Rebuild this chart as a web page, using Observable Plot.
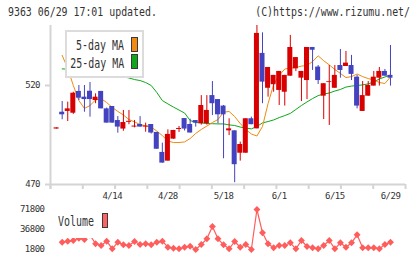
<!DOCTYPE html>
<html>
<head>
<meta charset="utf-8">
<script src="https://cdn.jsdelivr.net/npm/d3@7"></script>
<script src="https://cdn.jsdelivr.net/npm/@observablehq/plot@0.6"></script>
<style>
  body { margin: 0; background: #fff; }
  #chart { position: relative; width: 420px; height: 259px; overflow: hidden;
           font-family: "DejaVu Sans Mono", monospace; color: #333; background: #fff; }
  #mainPlot, #volPlot { position: absolute; left: 0; }
  #mainPlot { top: 0; }
  #volPlot { top: 200px; }
  .t { position: absolute; white-space: nowrap; line-height: 1; display: inline-block; }
  .hdr { font-size: 11.5px; transform: scaleX(0.86); top: 7px; }
  .leg { font-size: 13.7px; transform: scaleX(0.727); }
  .box { position: absolute; background: #fff; }
  .sw { position: absolute; box-sizing: border-box; border: 1.5px solid #3a3a3a; }
</style>
</head>
<body>
<div id="chart">
  <div class="t hdr" style="left:8px; transform-origin:left center;">9363 06/29 17:01 updated.</div>
  <div class="t hdr" style="right:10px; transform-origin:right center;">(C)https://www.rizumu.net/</div>
  <div id="mainPlot"></div>
  <div id="volPlot"></div>

  <!-- moving-average legend -->
  <div class="box" style="left:64.5px; top:29.5px; width:79px; height:48.5px; box-sizing:border-box; border:2px solid #dcdcdc;"></div>
  <div class="t leg" style="right:296px; top:39.4px; transform-origin:right center;">5-day MA</div>
  <div class="t leg" style="right:296px; top:56.6px; transform-origin:right center;">25-day MA</div>
  <div class="sw" style="left:131px; top:37px; width:6.5px; height:15px; background:#f08a10;"></div>
  <div class="sw" style="left:131px; top:54.3px; width:6.5px; height:15px; background:#10a818;"></div>

  <!-- volume legend -->
  <div class="box" style="left:55px; top:204px; width:56px; height:33.5px;"></div>
  <div class="t leg" style="left:58.3px; top:215.4px; transform-origin:left center;">Volume</div>
  <div class="sw" style="left:101.5px; top:213.3px; width:6.5px; height:15px; background:#ff6262;"></div>
</div>

<script>
// Trading days
const dates = ["3/31","4/1","4/2","4/3","4/6","4/7","4/8","4/9","4/10","4/13",
  "4/14","4/15","4/16","4/17","4/20","4/21","4/22","4/23","4/24","4/27",
  "4/28","4/30","5/1","5/7","5/8","5/11","5/12","5/13","5/14","5/15",
  "5/18","5/19","5/20","5/21","5/22","5/25","5/26","5/27","5/28","5/29",
  "6/1","6/2","6/3","6/4","6/5","6/8","6/9","6/10","6/11","6/12",
  "6/15","6/16","6/17","6/18","6/19","6/22","6/23","6/24","6/25","6/26","6/29"];

const open = [498.0,506.5,506.9,506.0,517.0,514.1,517.1,512.4,517.0,508.2,
  509.4,502.3,498.0,501.4,499.0,500.3,499.0,500.3,496.3,486.2,
  481.8,492.9,497.8,503.3,500.3,502.3,500.7,500.7,514.9,512.9,
  509.6,497.1,497.1,485.8,485.8,503.2,498.1,536.2,518.6,520.4,
  517.5,516.6,524.7,528.4,523.7,522.5,539.2,529.3,514.6,521.5,
  518.6,530.1,529.6,530.1,524.2,506.9,514.6,519.7,523.7,527.1,525.1];

const high = [498.6,511.9,511.6,516.6,520.0,520.0,521.5,515.8,517.0,508.6,
  509.4,504.3,507.4,507.4,502.3,504.3,501.0,500.3,496.3,490.9,
  497.6,497.3,499.3,503.3,503.0,502.3,514.9,514.9,522.0,512.9,
  509.9,503.2,497.1,491.4,503.2,504.0,551.0,546.6,529.1,525.1,
  527.1,525.1,545.3,534.1,527.1,539.2,539.2,530.1,520.9,530.1,
  530.1,538.2,537.2,535.2,525.1,522.0,522.0,527.1,529.1,528.1,540.2];

const low = [498.0,502.7,501.8,505.4,512.4,506.5,504.0,510.8,508.2,501.0,
  501.0,495.9,496.9,500.2,498.6,499.0,496.4,495.5,487.8,480.8,
  481.8,492.9,496.3,497.0,496.0,499.0,500.0,500.0,504.8,500.7,
  483.0,494.7,470.9,481.8,485.8,500.2,498.1,510.8,514.1,516.6,
  509.9,509.6,524.7,527.0,511.9,512.9,527.6,520.5,502.8,499.8,
  518.6,523.7,529.6,522.5,508.2,506.9,514.6,519.7,519.7,524.7,519.7];

const close = [498.6,505.2,508.2,516.1,513.6,512.9,512.9,514.1,508.2,501.0,
  501.0,499.0,501.3,501.9,499.5,499.0,499.5,496.0,487.8,480.8,
  495.3,497.3,498.3,498.0,496.0,501.0,509.9,507.4,510.8,505.2,
  505.2,498.1,480.0,490.2,503.2,500.2,546.3,521.7,529.1,525.1,
  527.1,525.1,539.2,534.1,527.1,539.2,537.8,522.5,520.9,521.9,
  525.1,527.6,531.3,525.6,509.6,514.9,520.0,524.2,527.1,524.7,523.7];

// 5-day and 25-day moving averages
const ma5 = [null,535.2,528.6,520.0,512.4,508.4,509.9,512.7,513.3,511.4,
  508.9,506.9,505.1,502.8,501.6,500.3,499.6,499.0,497.0,494.7,
  492.0,491.2,491.2,491.5,493.2,495.8,497.8,499.5,501.3,502.8,
  506.5,506.9,504.3,500.8,497.8,495.5,494.5,499.3,510.9,520.5,
  525.1,528.3,528.8,529.1,529.8,530.1,532.1,535.0,532.5,530.4,
  528.1,526.1,524.0,524.5,525.8,524.5,523.5,522.8,521.5,521.0,524.3];

const ma25 = [null,528.4,528.2,528.0,527.8,527.5,527.2,526.8,526.4,526.0,
  525.5,525.0,524.4,523.8,523.0,522.5,521.5,520.0,516.5,512.4,
  510.7,509.1,507.6,506.1,502.3,501.3,501.1,500.8,500.7,500.6,
  500.6,500.1,499.8,499.0,498.5,498.1,499.3,501.1,501.8,502.6,
  503.8,504.8,505.9,507.9,509.9,511.7,513.4,514.9,515.7,516.2,
  517.2,518.0,519.2,519.7,520.0,520.3,520.8,521.8,523.3,524.3,525.3];

const volume = [null,14600,16300,17550,21400,19300,27000,11800,8800,16300,
  3000,14600,10000,8800,15800,10500,11800,10000,14600,16300,
  5800,4000,3000,5800,7600,1800,10500,20500,42000,20500,
  10000,3000,15800,5800,10500,1800,71800,31000,11800,4800,
  8800,8800,13500,3000,17500,7000,4800,3000,8800,17500,
  3000,13500,5800,13500,27500,4800,4800,4800,3000,10500,14600];

const dateLabels = ["4/14","4/28","5/18","6/1","6/15","6/29"];
const priceTicks = [470, 520];
const volumeTicks = [1800, 36800, 71800];

const rows = dates.map((d, i) => ({
  i, d, o: open[i], h: high[i], l: low[i], c: close[i],
  ma5: ma5[i], ma25: ma25[i], v: volume[i]
}));

const RED = "#d80000", BLUE = "#4343c0", AX = "#d4d4d4";
const ORANGE = "#f08a10", GREEN = "#10a818", VOL = "#ff5c5c";
const candleColor = r => (r.c >= r.o ? RED : BLUE);

const xDomain = [-1.1, 62.7];
// evenly spaced axis ticks across the frame
const xTicks = d3.range(12).map(k => xDomain[0] + k * (xDomain[1] - xDomain[0]) / 11);
const labelDays = dateLabels.map(s => dates.indexOf(s));

const baseStyle = {
  fontFamily: "'DejaVu Sans Mono', monospace",
  fontSize: "9px", color: "#333", background: "transparent", overflow: "visible",
  letterSpacing: "-0.5px"
};

const main = Plot.plot({
  width: 420, height: 203,
  marginLeft: 50, marginRight: 15, marginTop: 25, marginBottom: 19,
  style: baseStyle,
  x: {domain: xDomain, axis: null},
  y: {domain: [470, 550.3], axis: null},
  color: {type: "identity"},
  marks: [
    Plot.ruleY([470], {stroke: AX, strokeWidth: 2}),
    Plot.ruleX([xDomain[0]], {stroke: AX, strokeWidth: 2, insetBottom: -5}),
    Plot.axisX(xTicks, {tickSize: 5, stroke: AX, strokeWidth: 2, tickFormat: () => "", label: null}),
    Plot.axisY(priceTicks, {tickSize: 5, tickPadding: 5.5, stroke: AX, strokeWidth: 2, color: "#333",
      tickFormat: d3.format("d"), label: null, fontSize: 9}),
    Plot.text(labelDays, {x: d => d, text: d => dates[d], frameAnchor: "bottom", dy: 14,
      fill: "#333", fontSize: 9}),
    Plot.line(rows.filter(r => r.ma25 != null), {x: "i", y: "ma25", stroke: GREEN, strokeWidth: 1}),
    Plot.line(rows.filter(r => r.ma5 != null), {x: "i", y: "ma5", stroke: ORANGE, strokeWidth: 1}),
    Plot.ruleX(rows, {x: "i", y1: "l", y2: "h", stroke: candleColor, strokeWidth: 1, clip: true}),
    Plot.rect(rows, {x1: r => r.i - 0.45, x2: r => r.i + 0.45, y1: "o", y2: "c",
      fill: candleColor, clip: true})
  ]
});
document.getElementById("mainPlot").append(main);

const vol = Plot.plot({
  width: 420, height: 59,
  marginLeft: 50, marginRight: 15, marginTop: 9, marginBottom: 10,
  style: baseStyle,
  x: {domain: xDomain, axis: null},
  y: {domain: [volumeTicks[0], volumeTicks[2]], axis: null},
  marks: [
    Plot.axisY(volumeTicks, {tickSize: 0, tickPadding: 6, label: null, color: "#333",
      tickFormat: d3.format("d"), fontSize: 9}),
    Plot.line(rows.filter(r => r.v != null), {x: "i", y: "v", stroke: VOL, strokeWidth: 1.2}),
    Plot.dot(rows.filter(r => r.v != null), {x: "i", y: "v", symbol: "diamond2", r: 3.1, fill: VOL})
  ]
});
document.getElementById("volPlot").append(vol);
</script>
</body>
</html>
